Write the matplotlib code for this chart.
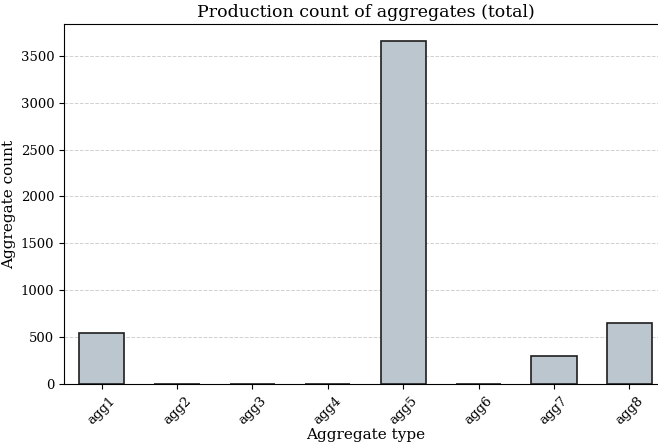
import matplotlib.pyplot as plt

categories = ["agg1", "agg2", "agg3", "agg4", "agg5", "agg6", "agg7", "agg8"]
counts = [545, 3, 2, 4, 3655, 2, 299, 651]

plt.rcParams['font.family'] = ['DejaVu Serif']

fig = plt.figure(figsize=(6.58, 4.44), dpi=100)
ax = fig.add_axes([0.0973, 0.1351, 0.9164, 0.8108])

ax.bar(range(len(categories)), counts, width=0.6, color="#bcc6ce",
       edgecolor="#1e1e1e", linewidth=1.2, zorder=3)
ax.set_xlim(-0.5, len(categories) - 0.5)
ax.set_xticks(range(len(categories)))
ax.set_xticklabels(categories, rotation=45, fontsize=9.5)
ax.tick_params(axis="y", labelsize=9.5)
ax.grid(axis="y", linestyle="--", color="#d0d0d0", linewidth=0.7, zorder=0)
ax.set_title("Production count of aggregates (total)", fontsize=12.5, pad=5)
ax.set_xlabel("Aggregate type", fontsize=11, labelpad=1)
ax.set_ylabel("Aggregate count", fontsize=11, labelpad=3)

fig.savefig("out.png", dpi=100)
